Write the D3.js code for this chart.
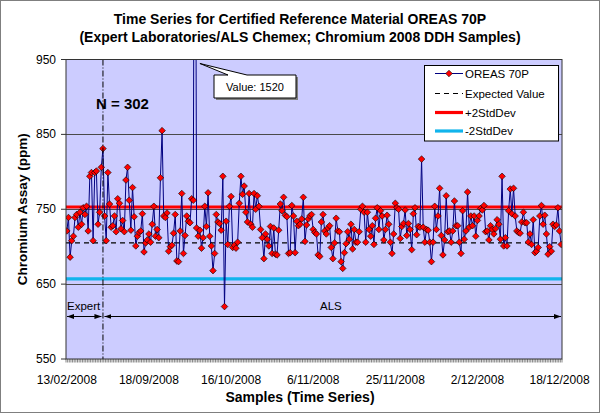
<!DOCTYPE html>
<html><head><meta charset="utf-8">
<script src="https://cdn.jsdelivr.net/npm/d3@7"></script>
<style>body{margin:0;background:#fff}svg{display:block}text{font-family:"Liberation Sans",Arial,sans-serif}</style>
</head><body><svg id="c" width="600" height="413"></svg>
<script>
// ---- data ----
const expertValues = [721,739,686,708,714,739,743,726,746,730,752,743,754,721,794,799,708,799,801,730,746,806,831];
const alsValues = [741,708,799,757,726,728,741,720,764,758,724,735,720,789,806,762,722,779,740,701,714,719,721,744,693,705,709,717,706,730,754,714,723,712,792,
855,741,739,745,694,700,702,718,743,681,680,721,771,691,715,741,734,732,764,762,1520,725,714,722,698,712,754,727,772,714,701,668,691,743,733,731,722,794,620,734,703,754,767,699,702,698,706,758,794,770,781,746,733,771,730,726,771,750,768,754,723,
712,684,717,710,701,727,691,725,690,689,722,757,748,766,742,740,691,692,755,741,692,734,728,730,737,766,707,729,737,741,743,723,719,717,689,687,733,743,721,717,725,728,699,684,705,738,721,720,680,671,692,704,720,710,730,697,723,706,706,
720,750,754,746,706,746,723,714,728,703,738,752,723,748,741,709,723,742,730,706,691,717,758,752,750,711,727,731,749,715,731,723,696,744,752,716,727,726,817,726,706,723,722,706,680,706,754,723,741,778,715,689,709,768,720,721,706,721,761,728,
728,706,691,748,710,721,773,726,741,728,741,714,735,741,751,749,755,720,721,709,728,723,717,724,736,730,710,794,701,712,701,748,777,744,778,741,721,719,718,733,746,732,732,706,717,703,736,692,694,699,741,755,730,742,717,690,700,694,730,727,729,752,721,703];
const values = expertValues.concat(alsValues);
const dateTickIndex = [0,50,100,150,200,250,300];
const dateTickLabels = ["13/02/2008","18/09/2008","16/10/2008","6/11/2008","25/11/2008","2/12/2008","18/12/2008"];
const yTicks = [550,650,750,850,950];
const gridValues = [650,750,850];
const expectedValue = 705;
const plus2SD = 753;
const minus2SD = 657;
const seriesNames = ["OREAS 70P","Expected Value","+2StdDev","-2StdDev"];
const nLabel = "N = 302";
const outlierLabel = "Value: 1520";

// ---- layout ----
const svg = d3.select("#c");
const L = 66, R = 562, T = 59.5, B = 359;
const x = d3.scaleBand().domain(d3.range(values.length)).range([L, R]).paddingInner(0).paddingOuter(0);
const cx = i => x(i) + x.bandwidth()/2;
const y = d3.scaleLinear().domain([550, 950]).range([B, T]);

svg.append("rect").attr("x",0.5).attr("y",0.5).attr("width",599).attr("height",412).attr("fill","#fff").attr("stroke","#7f7f7f");

svg.append("defs").append("clipPath").attr("id","pc").append("rect").attr("x",L).attr("y",T).attr("width",R-L).attr("height",B-T);

// plot background
svg.append("rect").attr("x",L).attr("y",T).attr("width",R-L).attr("height",B-T).attr("fill","#CCCCFF");

// gridlines
svg.selectAll(".g").data(gridValues).enter().append("line")
  .attr("x1",L).attr("x2",R).attr("y1",d=>Math.round(y(d))+0.5).attr("y2",d=>Math.round(y(d))+0.5)
  .attr("stroke","#4a4a4a").attr("stroke-width",1);

// titles
svg.append("text").attr("x",300).attr("y",24).attr("text-anchor","middle").attr("font-size",14).attr("font-weight","bold")
  .text("Time Series for Certified Reference Material OREAS 70P");
svg.append("text").attr("x",300).attr("y",42).attr("text-anchor","middle").attr("font-size",14).attr("font-weight","bold")
  .text("(Expert Laboratories/ALS Chemex; Chromium 2008 DDH Samples)");

// reference lines
const g = svg.append("g").attr("clip-path","url(#pc)");
g.append("line").attr("x1",L).attr("x2",R).attr("y1",y(expectedValue)).attr("y2",y(expectedValue))
  .attr("stroke","#000").attr("stroke-width",1.2).attr("stroke-dasharray","5,4");
g.append("line").attr("x1",L).attr("x2",R).attr("y1",y(plus2SD)).attr("y2",y(plus2SD))
  .attr("stroke","#FF0000").attr("stroke-width",3.2);
g.append("line").attr("x1",L).attr("x2",R).attr("y1",y(minus2SD)).attr("y2",y(minus2SD))
  .attr("stroke","#11B4EC").attr("stroke-width",3.2);

// split line
const splitX = cx(expertValues.length-1);
svg.append("line").attr("x1",splitX).attr("x2",splitX).attr("y1",T).attr("y2",B)
  .attr("stroke","#000").attr("stroke-width",1).attr("stroke-dasharray","6,2,1,2");

// series
const line = d3.line().x((d,i)=>cx(i)).y(d=>y(d));
g.append("path").datum(values).attr("d",line).attr("fill","none").attr("stroke","#000080").attr("stroke-width",1);
const dia = "M0,-3.3L3.3,0L0,3.3L-3.3,0Z";
g.selectAll(".m").data(values).enter().append("path")
  .attr("d",dia).attr("transform",(d,i)=>`translate(${cx(i)},${y(d)})`)
  .attr("fill","#FF0000").attr("stroke","#000").attr("stroke-width",0.6);

// plot border
svg.append("rect").attr("x",L).attr("y",T).attr("width",R-L).attr("height",B-T).attr("fill","none").attr("stroke","#333").attr("stroke-width",1);

// y axis
yTicks.forEach(v=>{
  svg.append("line").attr("x1",L-5).attr("x2",L).attr("y1",y(v)).attr("y2",y(v)).attr("stroke","#333");
  svg.append("text").attr("x",L-10).attr("y",y(v)+4).attr("text-anchor","end").attr("font-size",12).text(v);
});
// x axis ticks
const tg = svg.append("g");
d3.range(values.length+1).forEach(i=>{
  const xx = L + i*x.bandwidth();
  tg.append("line").attr("x1",xx).attr("x2",xx).attr("y1",B).attr("y2",B+3.5).attr("stroke","#333").attr("stroke-width",0.6);
});
dateTickIndex.forEach((idx,k)=>{
  svg.append("text").attr("x",cx(idx)).attr("y",384).attr("text-anchor","middle").attr("font-size",12).text(dateTickLabels[k]);
});

// axis titles
svg.append("text").attr("x",300).attr("y",402).attr("text-anchor","middle").attr("font-size",14).attr("font-weight","bold").text("Samples (Time Series)");
svg.append("text").attr("transform",`translate(27,${(T+B)/2}) rotate(-90)`).attr("text-anchor","middle").attr("font-size",13.5).attr("font-weight","bold").text("Chromium Assay (ppm)");

// N label
svg.append("text").attr("x",96).attr("y",109).attr("font-size",15).attr("font-weight","bold").text(nLabel);

// Expert / ALS arrows
const defs = svg.select("defs");
defs.append("marker").attr("id","ah").attr("viewBox","0 0 10 10").attr("refX",10).attr("refY",5)
  .attr("markerWidth",7).attr("markerHeight",7).attr("orient","auto-start-reverse").attr("markerUnits","userSpaceOnUse")
  .append("path").attr("d","M0,1.5L10,5L0,8.5Z").attr("fill","#000");
const ay = 316.5;
svg.append("line").attr("x1",L+1).attr("x2",splitX-1.5).attr("y1",ay).attr("y2",ay).attr("stroke","#000").attr("stroke-width",1)
  .attr("marker-start","url(#ah)").attr("marker-end","url(#ah)");
svg.append("line").attr("x1",splitX+1.5).attr("x2",R-1).attr("y1",ay).attr("y2",ay).attr("stroke","#000").attr("stroke-width",1)
  .attr("marker-start","url(#ah)").attr("marker-end","url(#ah)");
svg.append("text").attr("x",67).attr("y",310).attr("font-size",11.5).text("Expert");
svg.append("text").attr("x",320).attr("y",310).attr("font-size",11.5).text("ALS");

// outlier callout
const oi = values.indexOf(1520);
const apx = cx(oi)+5, apy = T+4;
svg.append("rect").attr("x",216).attr("y",77).attr("width",82).attr("height",23).attr("fill","#808080");
svg.append("path").attr("d",`M214,75L228,75L${apx},${apy}L247,75L296,75L296,98L214,98Z`)
  .attr("fill","#fff").attr("stroke","#000").attr("stroke-width",1);
svg.append("text").attr("x",255).attr("y",90.5).attr("text-anchor","middle").attr("font-size",11).text(outlierLabel);

// legend
const lg = svg.append("g");
lg.append("rect").attr("x",424.5).attr("y",65.5).attr("width",134).attr("height",75.5).attr("fill","#fff").attr("stroke","#000");
const rows = [73.5,93.5,112.5,131];
seriesNames.forEach((name,k)=>{
  const ry = rows[k];
  let ln = lg.append("line").attr("x1",435).attr("x2",463).attr("y1",ry).attr("y2",ry);
  if(k===0) ln.attr("stroke","#000080").attr("stroke-width",1);
  if(k===1) ln.attr("stroke","#000").attr("stroke-width",1.2).attr("stroke-dasharray","5,4");
  if(k===2) ln.attr("stroke","#FF0000").attr("stroke-width",3.2);
  if(k===3) ln.attr("stroke","#11B4EC").attr("stroke-width",3.2);
  if(k===0) lg.append("path").attr("d",dia).attr("transform",`translate(449,${ry})`).attr("fill","#FF0000").attr("stroke","#000").attr("stroke-width",0.6);
  lg.append("text").attr("x",465).attr("y",ry+4).attr("font-size",11.5).text(name);
});
</script>
</body></html>
